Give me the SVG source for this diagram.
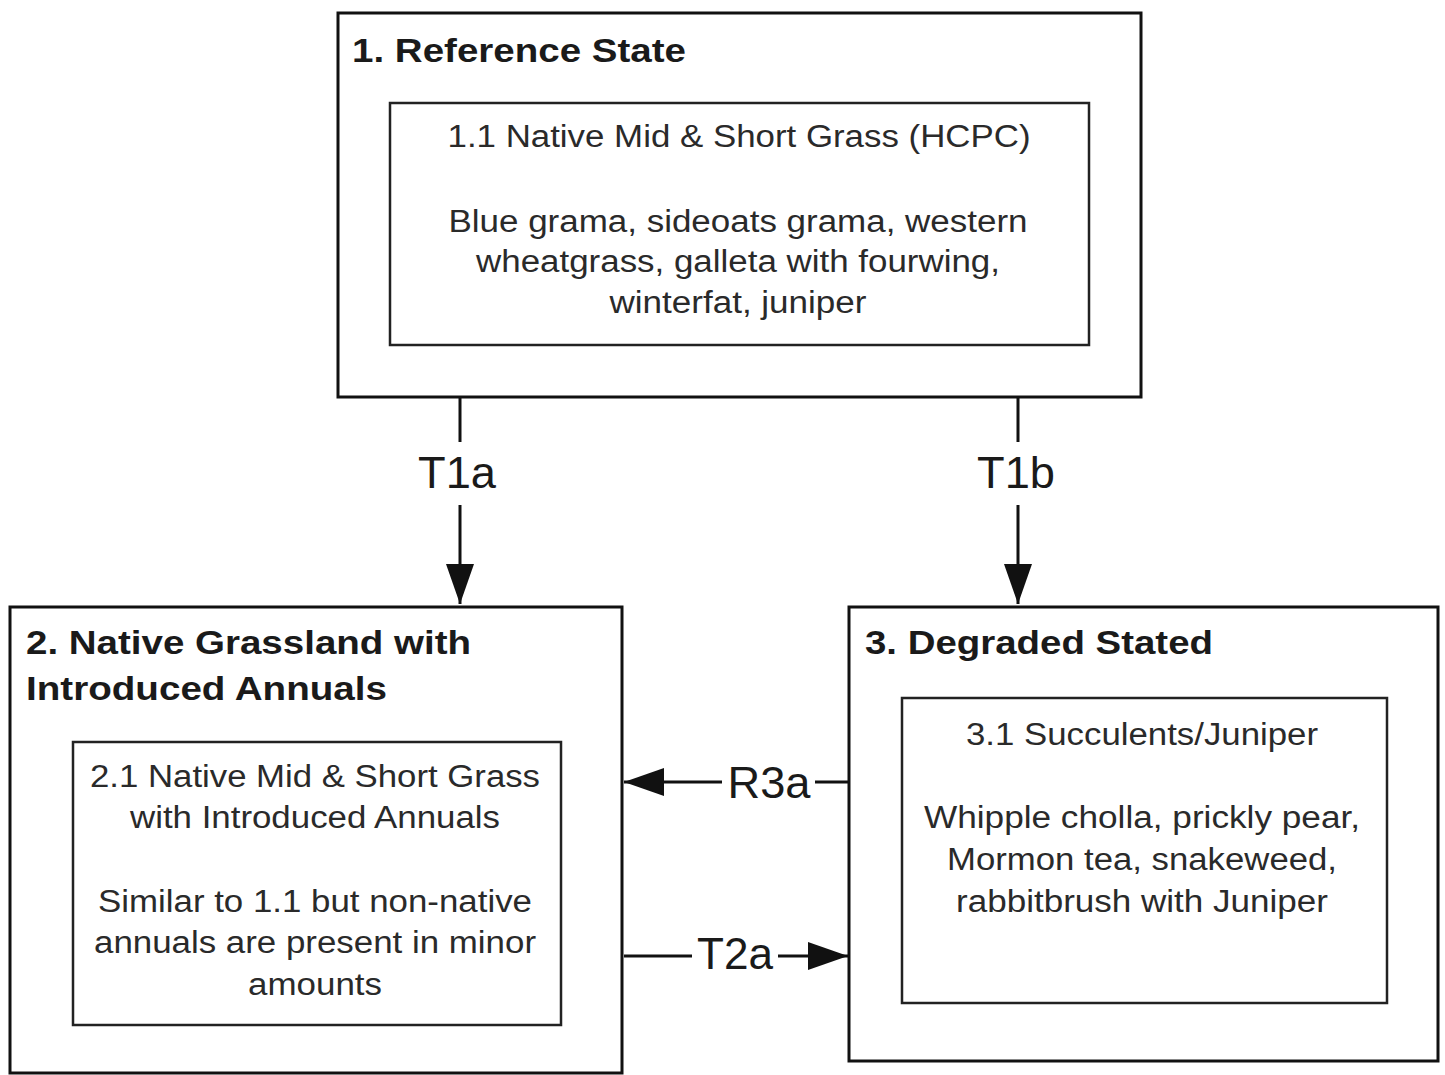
<svg xmlns="http://www.w3.org/2000/svg" width="1445" height="1075" viewBox="0 0 1445 1075">
<style>
.outer{fill:#fff;stroke:#111;stroke-width:3}
.inner{fill:#fff;stroke:#222;stroke-width:2.5}
.title{font-family:"Liberation Sans",Arial,sans-serif;font-weight:bold;font-size:33px;fill:#1a1a1a}
.body{font-family:"Liberation Sans",Arial,sans-serif;font-size:31px;fill:#2a2a2a;text-anchor:middle}
.lbl{font-family:"Liberation Sans",Arial,sans-serif;font-size:44px;fill:#1a1a1a;text-anchor:middle}
.edge{stroke:#111;stroke-width:3;fill:none}
</style>
<defs>
<marker id="ah" viewBox="0 0 40 28" refX="40" refY="14" markerWidth="40" markerHeight="28" markerUnits="userSpaceOnUse" orient="auto">
<path d="M0,0 L40,14 L0,28 Z" fill="#111"/>
</marker>
</defs>
<rect width="1445" height="1075" fill="#fff"/>
<g id="node1">
<rect class="outer" x="338" y="13" width="803" height="384"/>
<text class="title" x="352" y="62" textLength="334" lengthAdjust="spacingAndGlyphs">1. Reference State</text>
<rect class="inner" x="390" y="103" width="699" height="242"/>
<text class="body" x="739" y="147" textLength="583" lengthAdjust="spacingAndGlyphs">1.1 Native Mid &amp; Short Grass (HCPC)</text>
<text class="body" x="738" y="232" textLength="579" lengthAdjust="spacingAndGlyphs">Blue grama, sideoats grama, western</text>
<text class="body" x="738" y="272" textLength="524" lengthAdjust="spacingAndGlyphs">wheatgrass, galleta with fourwing,</text>
<text class="body" x="738" y="313" textLength="257" lengthAdjust="spacingAndGlyphs">winterfat, juniper</text>
</g>
<g id="node2">
<rect class="outer" x="10" y="607" width="612" height="466"/>
<text class="title" x="26" y="654" textLength="445" lengthAdjust="spacingAndGlyphs">2. Native Grassland with</text>
<text class="title" x="26" y="700" textLength="361" lengthAdjust="spacingAndGlyphs">Introduced Annuals</text>
<rect class="inner" x="73" y="742" width="488" height="283"/>
<text class="body" x="315" y="787" textLength="450" lengthAdjust="spacingAndGlyphs">2.1 Native Mid &amp; Short Grass</text>
<text class="body" x="315" y="828" textLength="370" lengthAdjust="spacingAndGlyphs">with Introduced Annuals</text>
<text class="body" x="315" y="912" textLength="434" lengthAdjust="spacingAndGlyphs">Similar to 1.1 but non-native</text>
<text class="body" x="315" y="953" textLength="442" lengthAdjust="spacingAndGlyphs">annuals are present in minor</text>
<text class="body" x="315" y="995" textLength="134" lengthAdjust="spacingAndGlyphs">amounts</text>
</g>
<g id="node3">
<rect class="outer" x="849" y="607" width="589" height="454"/>
<text class="title" x="865" y="654" textLength="348" lengthAdjust="spacingAndGlyphs">3. Degraded Stated</text>
<rect class="inner" x="902" y="698" width="485" height="305"/>
<text class="body" x="1142" y="745" textLength="352" lengthAdjust="spacingAndGlyphs">3.1 Succulents/Juniper</text>
<text class="body" x="1142" y="828" textLength="436" lengthAdjust="spacingAndGlyphs">Whipple cholla, prickly pear,</text>
<text class="body" x="1142" y="870" textLength="390" lengthAdjust="spacingAndGlyphs">Mormon tea, snakeweed,</text>
<text class="body" x="1142" y="912" textLength="372" lengthAdjust="spacingAndGlyphs">rabbitbrush with Juniper</text>
</g>
<g id="connectors">
<line class="edge" x1="460" y1="398" x2="460" y2="442"/>
<line class="edge" x1="460" y1="505" x2="460" y2="604" marker-end="url(#ah)"/>
<text class="lbl" x="457" y="488" textLength="78" lengthAdjust="spacingAndGlyphs">T1a</text>
<line class="edge" x1="1018" y1="398" x2="1018" y2="442"/>
<line class="edge" x1="1018" y1="505" x2="1018" y2="604" marker-end="url(#ah)"/>
<text class="lbl" x="1016" y="488" textLength="78" lengthAdjust="spacingAndGlyphs">T1b</text>
<line class="edge" x1="848" y1="782" x2="815" y2="782"/>
<line class="edge" x1="722" y1="782" x2="624" y2="782" marker-end="url(#ah)"/>
<text class="lbl" x="769" y="798" textLength="83" lengthAdjust="spacingAndGlyphs">R3a</text>
<line class="edge" x1="624" y1="956" x2="692" y2="956"/>
<line class="edge" x1="778" y1="956" x2="848" y2="956" marker-end="url(#ah)"/>
<text class="lbl" x="735" y="969" textLength="76" lengthAdjust="spacingAndGlyphs">T2a</text>
</g>
</svg>
